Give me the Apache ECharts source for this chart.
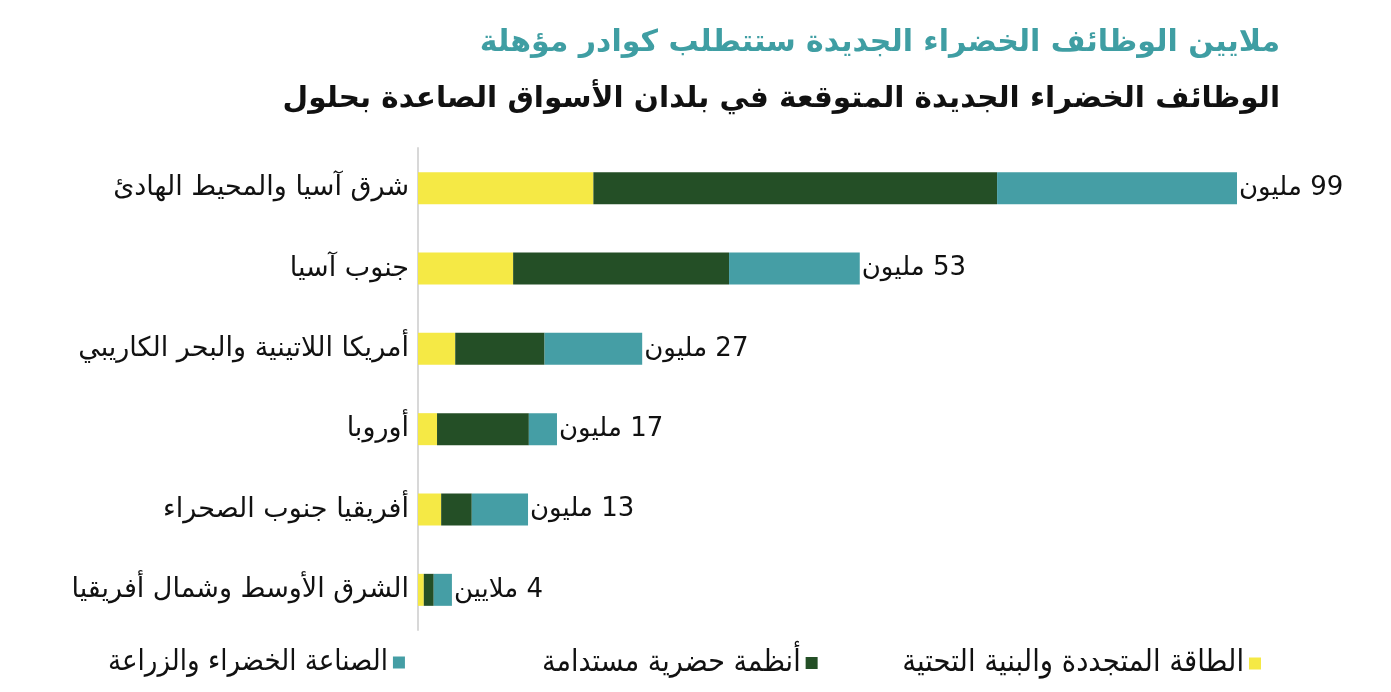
<!DOCTYPE html>
<html>
<head>
<meta charset="utf-8">
<script src="https://cdn.jsdelivr.net/npm/echarts@6/dist/echarts.min.js"></script>
<style>
  html, body { margin: 0; padding: 0; background: #fff; }
  #main { width: 1391px; height: 692px; }
</style>
</head>
<body>
<div id="main"></div>
<script>
// المناطق
var regions = [
  'شرق آسيا والمحيط الهادئ',
  'جنوب آسيا',
  'أمريكا اللاتينية والبحر الكاريبي',
  'أوروبا',
  'أفريقيا جنوب الصحراء',
  'الشرق الأوسط وشمال أفريقيا'
]
// ملايين الوظائف لكل قطاع
var energy = [21.2, 11.5, 4.5, 2.3, 2.8, 0.7]
var urban = [48.8, 26.1, 10.8, 11.1, 3.7, 1.2]
var industry = [29.0, 15.8, 11.8, 3.4, 6.8, 2.2]
// المجموع المكتوب بجانب كل عمود
var totalNumbers = ['99', '53', '27', '17', '13', '4']
var totalUnits = ['مليون', 'مليون', 'مليون', 'مليون', 'مليون', 'ملايين']
var seriesNames = ['الطاقة المتجددة والبنية التحتية', 'أنظمة حضرية مستدامة', 'الصناعة الخضراء والزراعة']

var font = '"DejaVu Sans", sans-serif'
var colors = ['#f5e945', '#244f26', '#459ea5']

var chart = echarts.init(document.getElementById('main'))
chart.setOption({
  animation: false,
  color: colors,
  title: [{
    text: 'ملايين الوظائف الخضراء الجديدة ستتطلب كوادر مؤهلة',
    right: 106, top: 23,
    textStyle: {color: '#3f9ea3', fontSize: 30, fontWeight: 'bold', fontFamily: font}
  }, {
    text: 'الوظائف الخضراء الجديدة المتوقعة في بلدان الأسواق الصاعدة بحلول',
    right: 106, top: 79,
    textStyle: {color: '#111', fontSize: 29.5, fontWeight: 'bold', fontFamily: font}
  }],
  legend: [
    {data: [seriesNames[0]], right: 125, top: 643, fs: 30.5},
    {data: [seriesNames[1]], left: 537, top: 643, fs: 30},
    {data: [seriesNames[2]], left: 103, top: 643, fs: 29}
  ].map(function (l) {
    l.align = 'right'
    l.icon = 'rect'
    l.itemWidth = 12
    l.itemHeight = 12
    l.itemGap = 6
    l.textStyle = {fontSize: l.fs, color: '#111', fontFamily: '"DejaVu Sans Condensed", sans-serif'}
    delete l.fs
    return l
  }),
  grid: {left: 418, right: 154, top: 148, bottom: 62, containLabel: false},
  xAxis: {
    type: 'value', min: 0, max: 99, show: false
  },
  yAxis: {
    type: 'category',
    data: regions,
    inverse: true,
    axisTick: {show: false},
    axisLine: {show: true, lineStyle: {color: '#d8d8d8', width: 2}},
    axisLabel: {fontSize: 27, color: '#111', margin: 9, fontFamily: font}
  },
  series: [
    {name: seriesNames[0], type: 'bar', stack: 'jobs', barWidth: 32, data: energy},
    {name: seriesNames[1], type: 'bar', stack: 'jobs', barWidth: 32, data: urban},
    {
      name: seriesNames[2], type: 'bar', stack: 'jobs', barWidth: 32, data: industry,
      label: {
        show: true, position: 'right', distance: 2,
        fontSize: 26, color: '#111', fontFamily: font,
        // الكلمة أولاً ثم الرقم على يمينها
        formatter: function (p) {
          return '{u|' + totalUnits[p.dataIndex] + '}{n| ' + totalNumbers[p.dataIndex] + '}'
        },
        rich: {
          u: {fontSize: 26, color: '#111', fontFamily: font},
          n: {fontSize: 26, color: '#111', fontFamily: font}
        }
      }
    }
  ]
})
</script>
</body>
</html>
